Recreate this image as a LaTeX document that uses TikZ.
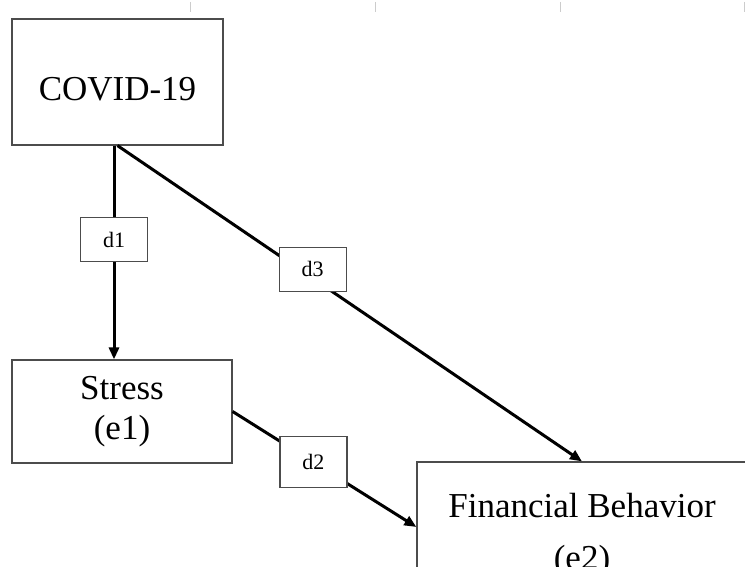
\documentclass[tikz,border=0pt]{standalone}
\usepackage{fontspec}
\setmainfont{Liberation Serif}
\usetikzlibrary{arrows.meta}

\begin{document}
\begin{tikzpicture}[
  x=1pt, y=-1pt,
  varbox/.style={draw=black!70, line width=1.2pt, fill=white, align=center, inner sep=0pt,
    font=\fontsize{35}{40}\selectfont},
  coefbox/.style={draw=black!70, line width=1.1pt, fill=white, inner sep=0pt,
    minimum width=67pt, minimum height=44pt, font=\fontsize{22}{26}\selectfont},
  flow/.style={-{Triangle[length=12pt,width=10pt]}, line width=3pt}
]
\clip (0,0) rectangle (745,567);
\foreach \tx in {190,375,560,744}
  \draw[black!20, line width=1pt] (\tx,2) -- (\tx,12);

\node[varbox, minimum width=211pt, minimum height=126pt, text height=37pt] (covid) at (117.5,82) {COVID-19};
\node[varbox, minimum width=220pt, minimum height=103pt] (stress) at (122,411.5) {Stress\\(e1)};
\node[varbox, minimum width=330pt, minimum height=146pt, font=\fontsize{35}{52}\selectfont] (finbeh) at (582,535) {Financial Behavior\\(e2)};

\draw[flow] ([xshift=-3.5pt]covid.south) -- ([xshift=-3.5pt]covid.south |- stress.north)
  node[coefbox, pos=0.44] (d1) {d1};
\draw[flow] (covid.south) -- (finbeh.north)
  node[coefbox, pos=0.42, yshift=9pt] (d3) {d3};
\draw[flow] (stress.east) -- ([yshift=8pt]finbeh.west)
  node[coefbox, pos=0.44, minimum height=51pt] (d2) {d2};
\end{tikzpicture}
\end{document}
